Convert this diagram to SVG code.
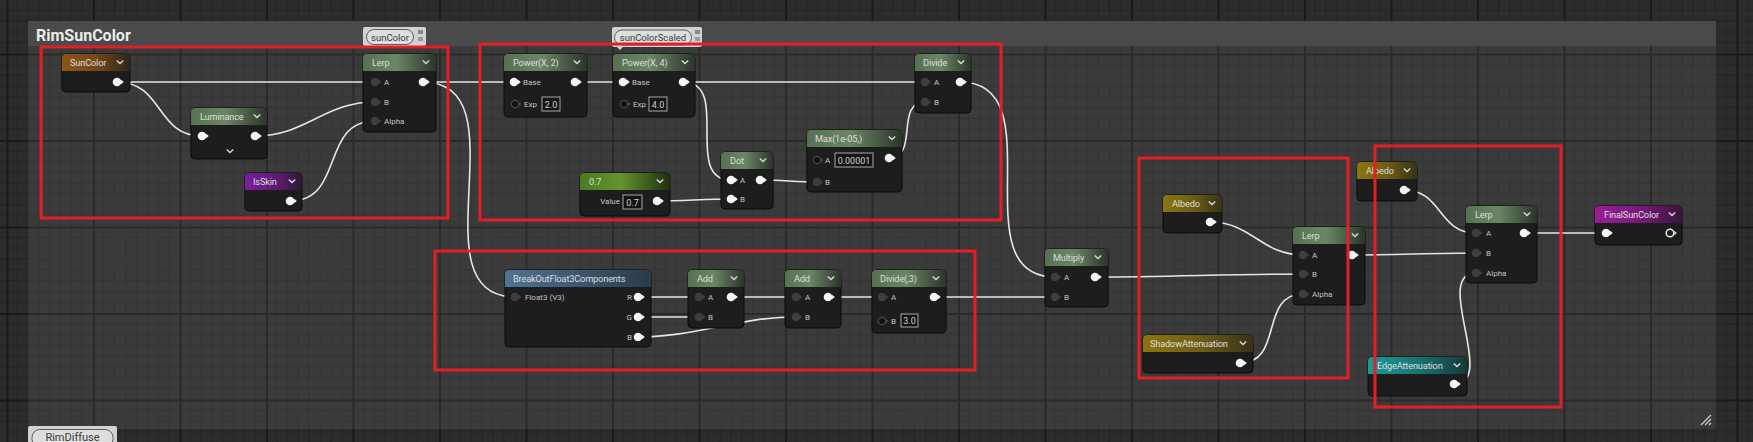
<svg xmlns="http://www.w3.org/2000/svg" xmlns:xlink="http://www.w3.org/1999/xlink" width="1753" height="442" viewBox="0 0 1753 442">
<style>
.ht{font-family:Roboto,"Liberation Sans",sans-serif;font-size:9.2px;letter-spacing:-0.15px;fill:#dcdcdc}
.lb{font-family:Roboto,"Liberation Sans",sans-serif;font-size:8px;fill:#c4c4c4}
.vt{font-family:Roboto,"Liberation Sans",sans-serif;font-size:9px;fill:#d0d0d0;text-anchor:middle}
.bd{fill:#1c1d1c;stroke:#0b0b0b;stroke-width:1}
.vb{fill:#141414;stroke:#a8a8a8;stroke-width:1}
.w{fill:none;stroke:#e6e6e6;stroke-width:1.6}
.red{fill:none;stroke:#e41e26;stroke-width:3}
.bt{font-family:Roboto,"Liberation Sans",sans-serif;font-size:9.5px;fill:#3a3a3a;text-anchor:middle}
</style>
<defs>
<pattern id="grid" x="6.5" y="53.5" width="86.5" height="86.5" patternUnits="userSpaceOnUse">
<rect width="86.5" height="86.5" fill="#2c2c2c"/>
<path d="M10.8 0V86.5M21.6 0V86.5M32.4 0V86.5M43.25 0V86.5M54.1 0V86.5M64.9 0V86.5M75.7 0V86.5M0 10.8H86.5M0 21.6H86.5M0 32.4H86.5M0 43.25H86.5M0 54.1H86.5M0 64.9H86.5M0 75.7H86.5" stroke="#242424" stroke-width="1.2"/>
<rect x="0" y="0" width="2" height="86.5" fill="#191919"/>
<rect x="0" y="0" width="86.5" height="2" fill="#191919"/>
</pattern>
<linearGradient id="gGreen" x1="0" y1="0" x2="1" y2="0"><stop offset="0" stop-color="#56714f"/><stop offset="0.45" stop-color="#6a8765"/><stop offset="1" stop-color="#2b352a"/></linearGradient>
<linearGradient id="gBright" x1="0" y1="0" x2="1" y2="0"><stop offset="0" stop-color="#4c7a20"/><stop offset="0.45" stop-color="#64942f"/><stop offset="1" stop-color="#1e3010"/></linearGradient>
<linearGradient id="gOrange" x1="0" y1="0" x2="1" y2="0"><stop offset="0" stop-color="#8c5616"/><stop offset="0.5" stop-color="#74481a"/><stop offset="1" stop-color="#2f251a"/></linearGradient>
<linearGradient id="gPurple" x1="0" y1="0" x2="1" y2="0"><stop offset="0" stop-color="#7a1f9c"/><stop offset="0.6" stop-color="#5a1a72"/><stop offset="1" stop-color="#2a1a30"/></linearGradient>
<linearGradient id="gBlue" x1="0" y1="0" x2="1" y2="0"><stop offset="0" stop-color="#4f7393"/><stop offset="1" stop-color="#2a3b4b"/></linearGradient>
<linearGradient id="gOlive" x1="0" y1="0" x2="1" y2="0"><stop offset="0" stop-color="#8c7510"/><stop offset="0.5" stop-color="#6e5e14"/><stop offset="1" stop-color="#363218"/></linearGradient>
<linearGradient id="gTeal" x1="0" y1="0" x2="1" y2="0"><stop offset="0" stop-color="#1a9a98"/><stop offset="0.5" stop-color="#187472"/><stop offset="1" stop-color="#15393a"/></linearGradient>
<linearGradient id="gMag" x1="0" y1="0" x2="1" y2="0"><stop offset="0" stop-color="#9a1c9a"/><stop offset="0.5" stop-color="#7a1a7a"/><stop offset="1" stop-color="#3a143a"/></linearGradient>
<g id="pw"><circle r="4.3" fill="#f4f4f4"/><path d="M3.8,-2.5L6.8,0L3.8,2.5Z" fill="#f4f4f4"/></g>
<g id="pg"><circle r="4.3" fill="#3e3e3e"/><path d="M3.8,-2.2L6.4,0L3.8,2.2Z" fill="#3e3e3e"/></g>
<g id="ph"><circle r="3.7" fill="#111" stroke="#4a4a4a" stroke-width="1.2"/><path d="M4.2,-2L6.5,0L4.2,2Z" fill="#4a4a4a"/></g>
<g id="pho"><circle r="3.8" fill="none" stroke="#e6e6e6" stroke-width="1.5"/><path d="M4.3,-2.2L6.8,0L4.3,2.2Z" fill="#e6e6e6"/></g>
<path id="chev" d="M-3.2,-1.6L0,1.6L3.2,-1.6" fill="none" stroke="#d8d8d8" stroke-width="1.4"/>
</defs>

<g id="background">
<rect x="0" y="0" width="1753" height="442" fill="url(#grid)"/>
</g>

<g id="comment-RimSunColor">
<rect x="28" y="46" width="1688" height="383" fill="#ffffff" opacity="0.075"/>
<rect x="28" y="21" width="1688" height="25" fill="#4a4a4a"/>
<text x="36" y="41" font-family="Roboto,'Liberation Sans',sans-serif" font-size="16" font-weight="bold" fill="#ececec">RimSunColor</text>
<path d="M1701,425L1711,415M1705,425L1711,419M1709,425L1711,423" stroke="#cfcfcf" stroke-width="1.2"/>
</g>

<g id="bubble-sunColor">
<rect x="363" y="27" width="63" height="19" rx="2" fill="#d2d2d2"/>
<rect x="366.5" y="29.5" width="47" height="15" rx="7.5" fill="#dedede" stroke="#5e5e5e" stroke-width="1"/>
<text class="bt" x="390" y="40.5">sunColor</text>
<rect x="418" y="30" width="5" height="4" fill="#8a8a8a"/>
<rect x="418" y="37" width="5" height="4" fill="#9a9a9a"/>
</g>

<g id="bubble-sunColorScaled">
<rect x="612" y="27" width="90" height="20" rx="2" fill="#d2d2d2"/>
<rect x="614.5" y="30" width="77" height="15" rx="7.5" fill="#dedede" stroke="#5e5e5e" stroke-width="1"/>
<text class="bt" x="653" y="41">sunColorScaled</text>
<rect x="695" y="30" width="5" height="4" fill="#8a8a8a"/>
<rect x="695" y="37" width="5" height="4" fill="#9a9a9a"/>
<path d="M617,47L620,50L623,47Z" fill="#d2d2d2"/>
</g>

<g id="bubble-RimDiffuse">
<rect x="28" y="426" width="89" height="20" rx="2" fill="#d2d2d2"/>
<rect x="32" y="429.5" width="81" height="18" rx="8" fill="#dedede" stroke="#5e5e5e" stroke-width="1"/>
<text x="72.5" y="440.5" font-family="Roboto,'Liberation Sans',sans-serif" font-size="11" fill="#3a3a3a" text-anchor="middle">RimDiffuse</text>
</g>

<g id="connectors">
<path class="w" d="M117,82C203,82 289,82 375,82"/>
<path class="w" d="M117,82C163.3,82 155.7,136 202,136"/>
<path class="w" d="M255,136C306.3,136 323.7,102 375,102"/>
<path class="w" d="M290,201C345,201 320,121 375,121"/>
<path class="w" d="M423,82L514,82"/>
<path class="w" d="M423,82C525.3,82 412.7,297 515,297"/>
<path class="w" d="M575,82L623,82"/>
<path class="w" d="M683,82L925,82"/>
<path class="w" d="M683,82C731.7,82 682.3,180 731,180"/>
<path class="w" d="M657,201C682.3,201 705.7,199 731,199"/>
<path class="w" d="M760,180C779.7,180 797.3,182 817,182"/>
<path class="w" d="M889,158C919.7,158 894.3,102 925,102"/>
<path class="w" d="M960,82C1056.7,82 958.3,277 1055,277"/>
<path class="w" d="M934,297L1055,297"/>
<path class="w" d="M1095,277C1165.3,277 1232.7,274 1303,274"/>
<path class="w" d="M1210,222C1252,222 1261,255 1303,255"/>
<path class="w" d="M1240,363C1284,363 1259,294 1303,294"/>
<path class="w" d="M1352,255C1394,255 1434,253 1476,253"/>
<path class="w" d="M1404,190C1442.3,190 1437.7,233 1476,233"/>
<path class="w" d="M1454,384C1498.3,384 1431.7,273 1476,273"/>
<path class="w" d="M1524,233L1606,233"/>
<path class="w" d="M638,297L699,297"/>
<path class="w" d="M638,317L699,317"/>
<path class="w" d="M638,337C697.3,337 736.7,317 796,317"/>
<path class="w" d="M731,297L796,297"/>
<path class="w" d="M828,297L882,297"/>
</g>

<g id="node-SunColor">
<rect class="bd" x="62" y="54" width="68" height="38" rx="4"/>
<path d="M62,71V58Q62,54 66,54H126Q130,54 130,58V71Z" fill="url(#gOrange)"/>
<text class="ht" x="70" y="66">SunColor</text>
<use href="#chev" x="120" y="62"/>
<use href="#pw" x="117" y="82"/>
</g>

<g id="node-Luminance">
<rect class="bd" x="191" y="108" width="76" height="51" rx="4"/>
<path d="M191,125V112Q191,108 195,108H263Q267,108 267,112V125Z" fill="url(#gGreen)"/>
<text class="ht" x="200" y="120">Luminance</text>
<use href="#chev" x="257" y="116"/>
<use href="#pw" x="202" y="136"/>
<use href="#pw" x="255" y="136"/>
<use href="#chev" x="230" y="151"/>
</g>

<g id="node-IsSkin">
<rect class="bd" x="245" y="173" width="57" height="38" rx="4"/>
<path d="M245,190V177Q245,173 249,173H298Q302,173 302,177V190Z" fill="url(#gPurple)"/>
<text class="ht" x="253" y="185">IsSkin</text>
<use href="#chev" x="292" y="181"/>
<use href="#pw" x="290" y="201"/>
</g>

<g id="node-Lerp1">
<rect class="bd" x="363" y="54" width="73" height="78" rx="4"/>
<path d="M363,71V58Q363,54 367,54H432Q436,54 436,58V71Z" fill="url(#gGreen)"/>
<text class="ht" x="372" y="66">Lerp</text>
<use href="#chev" x="426" y="62"/>
<use href="#pg" x="375" y="82"/><text class="lb" x="384" y="85">A</text>
<use href="#pg" x="375" y="102"/><text class="lb" x="384" y="105">B</text>
<use href="#pg" x="375" y="121"/><text class="lb" x="384" y="124">Alpha</text>
<use href="#pw" x="423" y="82"/>
</g>

<g id="node-Power2">
<rect class="bd" x="504" y="54" width="83" height="63" rx="4"/>
<path d="M504,71V58Q504,54 508,54H583Q587,54 587,58V71Z" fill="url(#gGreen)"/>
<text class="ht" x="513" y="66">Power(X, 2)</text>
<use href="#chev" x="577" y="62"/>
<use href="#pw" x="514" y="82"/><text class="lb" x="523" y="85">Base</text>
<use href="#pw" x="575" y="82"/>
<use href="#ph" x="515" y="104"/><text class="lb" x="524" y="107">Exp</text>
<rect class="vb" x="542" y="97" width="18" height="14"/><text class="vt" x="551" y="107.5">2.0</text>
</g>

<g id="node-Power4">
<rect class="bd" x="613" y="54" width="82" height="63" rx="4"/>
<path d="M613,71V58Q613,54 617,54H691Q695,54 695,58V71Z" fill="url(#gGreen)"/>
<text class="ht" x="622" y="66">Power(X, 4)</text>
<use href="#chev" x="685" y="62"/>
<use href="#pw" x="623" y="82"/><text class="lb" x="632" y="85">Base</text>
<use href="#pw" x="683" y="82"/>
<use href="#ph" x="624" y="104"/><text class="lb" x="633" y="107">Exp</text>
<rect class="vb" x="649" y="97" width="18" height="14"/><text class="vt" x="658" y="107.5">4.0</text>
</g>

<g id="node-Divide">
<rect class="bd" x="915" y="54" width="56" height="59" rx="4"/>
<path d="M915,71V58Q915,54 919,54H967Q971,54 971,58V71Z" fill="url(#gGreen)"/>
<text class="ht" x="923" y="66">Divide</text>
<use href="#chev" x="961" y="62"/>
<use href="#pg" x="925" y="82"/><text class="lb" x="934" y="85">A</text>
<use href="#pg" x="925" y="102"/><text class="lb" x="934" y="105">B</text>
<use href="#pw" x="960" y="82"/>
</g>

<g id="node-Max">
<rect class="bd" x="807" y="130" width="95" height="62" rx="4"/>
<path d="M807,147V134Q807,130 811,130H898Q902,130 902,134V147Z" fill="url(#gGreen)"/>
<text class="ht" x="815" y="142">Max(1e-05,)</text>
<use href="#chev" x="892" y="138"/>
<use href="#ph" x="817" y="160"/><text class="lb" x="825" y="163">A</text>
<rect class="vb" x="835" y="153" width="38" height="14"/><text class="vt" x="854" y="163.5">0.00001</text>
<use href="#pw" x="889" y="158"/>
<use href="#pg" x="817" y="182"/><text class="lb" x="825" y="185">B</text>
</g>

<g id="node-Dot">
<rect class="bd" x="721" y="152" width="52" height="57" rx="4"/>
<path d="M721,169V156Q721,152 725,152H769Q773,152 773,156V169Z" fill="url(#gGreen)"/>
<text class="ht" x="730" y="164">Dot</text>
<use href="#chev" x="763" y="160"/>
<use href="#pw" x="731" y="180"/><text class="lb" x="740" y="183">A</text>
<use href="#pw" x="731" y="199"/><text class="lb" x="740" y="202">B</text>
<use href="#pw" x="760" y="180"/>
</g>

<g id="node-Const07">
<rect class="bd" x="580" y="173" width="90" height="43" rx="4"/>
<path d="M580,190V177Q580,173 584,173H666Q670,173 670,177V190Z" fill="url(#gBright)"/>
<text class="ht" x="589" y="185">0.7</text>
<use href="#chev" x="660" y="181"/>
<text class="lb" x="620" y="204" text-anchor="end">Value</text>
<rect class="vb" x="623" y="195" width="19" height="14"/><text class="vt" x="632.5" y="205.5">0.7</text>
<use href="#pw" x="657" y="201"/>
</g>

<g id="node-BreakOutFloat3Components">
<rect class="bd" x="505" y="270" width="146" height="77" rx="4"/>
<path d="M505,287V274Q505,270 509,270H647Q651,270 651,274V287Z" fill="url(#gBlue)"/>
<text class="ht" x="513" y="282">BreakOutFloat3Components</text>
<use href="#pg" x="515" y="297"/><text class="lb" x="525" y="300">Float3 (V3)</text>
<text class="lb" x="632" y="300" text-anchor="end">R</text><use href="#pw" x="638" y="297"/>
<text class="lb" x="632" y="320" text-anchor="end">G</text><use href="#pw" x="638" y="317"/>
<text class="lb" x="632" y="340" text-anchor="end">B</text><use href="#pw" x="638" y="337"/>
</g>

<g id="node-Add1">
<rect class="bd" x="688" y="270" width="56" height="58" rx="4"/>
<path d="M688,287V274Q688,270 692,270H740Q744,270 744,274V287Z" fill="url(#gGreen)"/>
<text class="ht" x="697" y="282">Add</text>
<use href="#chev" x="734" y="278"/>
<use href="#pg" x="699" y="297"/><text class="lb" x="708" y="300">A</text>
<use href="#pg" x="699" y="317"/><text class="lb" x="708" y="320">B</text>
<use href="#pw" x="731" y="297"/>
</g>

<g id="node-Add2">
<rect class="bd" x="785" y="270" width="56" height="58" rx="4"/>
<path d="M785,287V274Q785,270 789,270H837Q841,270 841,274V287Z" fill="url(#gGreen)"/>
<text class="ht" x="794" y="282">Add</text>
<use href="#chev" x="831" y="278"/>
<use href="#pg" x="796" y="297"/><text class="lb" x="805" y="300">A</text>
<use href="#pg" x="796" y="317"/><text class="lb" x="805" y="320">B</text>
<use href="#pw" x="828" y="297"/>
</g>

<g id="node-Divide3">
<rect class="bd" x="872" y="270" width="74" height="63" rx="4"/>
<path d="M872,287V274Q872,270 876,270H942Q946,270 946,274V287Z" fill="url(#gGreen)"/>
<text class="ht" x="880" y="282">Divide(,3)</text>
<use href="#chev" x="936" y="278"/>
<use href="#pg" x="882" y="297"/><text class="lb" x="891" y="300">A</text>
<use href="#pw" x="934" y="297"/>
<use href="#ph" x="882" y="321"/><text class="lb" x="891" y="324">B</text>
<rect class="vb" x="901" y="314" width="17" height="13"/><text class="vt" x="909.5" y="324">3.0</text>
</g>

<g id="node-Multiply">
<rect class="bd" x="1045" y="249" width="63" height="58" rx="4"/>
<path d="M1045,266V253Q1045,249 1049,249H1104Q1108,249 1108,253V266Z" fill="url(#gGreen)"/>
<text class="ht" x="1053" y="261">Multiply</text>
<use href="#chev" x="1098" y="257"/>
<use href="#pg" x="1055" y="277"/><text class="lb" x="1064" y="280">A</text>
<use href="#pg" x="1055" y="297"/><text class="lb" x="1064" y="300">B</text>
<use href="#pw" x="1095" y="277"/>
</g>

<g id="node-Albedo1">
<rect class="bd" x="1163" y="195" width="59" height="38" rx="4"/>
<path d="M1163,212V199Q1163,195 1167,195H1218Q1222,195 1222,199V212Z" fill="url(#gOlive)"/>
<text class="ht" x="1172" y="207">Albedo</text>
<use href="#chev" x="1212" y="203"/>
<use href="#pw" x="1210" y="222"/>
</g>

<g id="node-Lerp2">
<rect class="bd" x="1293" y="227" width="72" height="78" rx="4"/>
<path d="M1293,244V231Q1293,227 1297,227H1361Q1365,227 1365,231V244Z" fill="url(#gGreen)"/>
<text class="ht" x="1302" y="239">Lerp</text>
<use href="#chev" x="1355" y="235"/>
<use href="#pg" x="1303" y="255"/><text class="lb" x="1312" y="258">A</text>
<use href="#pg" x="1303" y="274"/><text class="lb" x="1312" y="277">B</text>
<use href="#pg" x="1303" y="294"/><text class="lb" x="1312" y="297">Alpha</text>
<use href="#pw" x="1352" y="255"/>
</g>

<g id="node-ShadowAttenuation">
<rect class="bd" x="1143" y="335" width="110" height="38" rx="4"/>
<path d="M1143,352V339Q1143,335 1147,335H1249Q1253,335 1253,339V352Z" fill="url(#gOlive)"/>
<text class="ht" x="1150" y="347">ShadowAttenuation</text>
<use href="#chev" x="1243" y="343"/>
<use href="#pw" x="1240" y="363"/>
</g>

<g id="node-Albedo2">
<rect class="bd" x="1357" y="162" width="60" height="39" rx="4"/>
<path d="M1357,179V166Q1357,162 1361,162H1413Q1417,162 1417,166V179Z" fill="url(#gOlive)"/>
<text class="ht" x="1366" y="174">Albedo</text>
<use href="#chev" x="1407" y="170"/>
<use href="#pw" x="1404" y="190"/>
</g>

<g id="node-Lerp3">
<rect class="bd" x="1466" y="206" width="71" height="77" rx="4"/>
<path d="M1466,223V210Q1466,206 1470,206H1533Q1537,206 1537,210V223Z" fill="url(#gGreen)"/>
<text class="ht" x="1475" y="218">Lerp</text>
<use href="#chev" x="1527" y="214"/>
<use href="#pg" x="1476" y="233"/><text class="lb" x="1486" y="236">A</text>
<use href="#pg" x="1476" y="253"/><text class="lb" x="1486" y="256">B</text>
<use href="#pg" x="1476" y="273"/><text class="lb" x="1486" y="276">Alpha</text>
<use href="#pw" x="1524" y="233"/>
</g>

<g id="node-FinalSunColor">
<rect class="bd" x="1595" y="206" width="87" height="39" rx="4"/>
<path d="M1595,223V210Q1595,206 1599,206H1678Q1682,206 1682,210V223Z" fill="url(#gMag)"/>
<text class="ht" x="1604" y="218">FinalSunColor</text>
<use href="#chev" x="1672" y="214"/>
<use href="#pw" x="1606" y="233"/>
<use href="#pho" x="1670" y="233"/>
</g>

<g id="node-EdgeAttenuation">
<rect class="bd" x="1368" y="357" width="99" height="39" rx="4"/>
<path d="M1368,374V361Q1368,357 1372,357H1463Q1467,357 1467,361V374Z" fill="url(#gTeal)"/>
<text class="ht" x="1377" y="369">EdgeAttenuation</text>
<use href="#chev" x="1457" y="365"/>
<use href="#pw" x="1454" y="384"/>
</g>

<g id="highlights">
<rect class="red" x="41" y="47" width="407" height="171"/>
<rect class="red" x="480" y="44" width="521" height="176"/>
<rect class="red" x="435" y="251" width="540" height="119"/>
<rect class="red" x="1139" y="158" width="209" height="220"/>
<rect class="red" x="1375" y="146" width="186" height="261"/>
</g>
</svg>
